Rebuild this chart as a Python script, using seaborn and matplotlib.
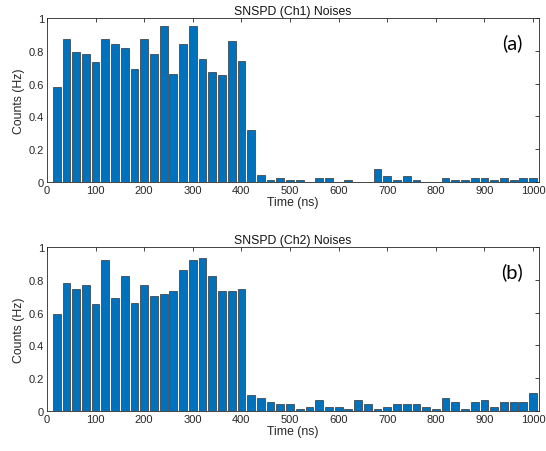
import numpy as np
import pandas as pd
import matplotlib
matplotlib.use("Agg")
import matplotlib.pyplot as plt
import seaborn as sns

# time bins (ns)
time_ns = list(range(20, 1001, 20))

# SNSPD channel 1 noise counts (Hz)
ch1_counts = [0.58, 0.87, 0.79, 0.78, 0.73, 0.87, 0.84, 0.82, 0.69, 0.87,
              0.78, 0.95, 0.66, 0.84, 0.95, 0.75, 0.67, 0.65, 0.86, 0.74,
              0.32, 0.04, 0.015, 0.025, 0.015, 0.015, 0.002, 0.025, 0.025, 0.002,
              0.015, 0.003, 0.003, 0.077, 0.037, 0.015, 0.037, 0.015, 0.003, 0.003,
              0.025, 0.015, 0.015, 0.025, 0.025, 0.015, 0.025, 0.015, 0.025, 0.025]

# SNSPD channel 2 noise counts (Hz)
ch2_counts = [0.59, 0.78, 0.74, 0.77, 0.65, 0.92, 0.69, 0.82, 0.66, 0.77,
              0.70, 0.71, 0.73, 0.86, 0.92, 0.93, 0.82, 0.73, 0.73, 0.74,
              0.098, 0.083, 0.057, 0.043, 0.043, 0.015, 0.027, 0.067, 0.027, 0.027,
              0.015, 0.067, 0.043, 0.015, 0.027, 0.043, 0.043, 0.043, 0.027, 0.015,
              0.081, 0.055, 0.015, 0.055, 0.067, 0.027, 0.055, 0.055, 0.055, 0.108]

titles = ["SNSPD (Ch1) Noises", "SNSPD (Ch2) Noises"]
panel_tags = ["(a)", "(b)"]

sns.set_style("white")
plt.rcParams['font.family'] = ['Liberation Sans', 'DejaVu Sans']

fig = plt.figure(figsize=(5.46, 4.52), dpi=100)
ax_top = fig.add_axes([0.086, 0.595, 0.901, 0.363])
ax_bot = fig.add_axes([0.086, 0.088, 0.901, 0.364])

for ax, counts, title, tag in zip([ax_top, ax_bot], [ch1_counts, ch2_counts], titles, panel_tags):
    df = pd.DataFrame({"time": time_ns, "counts": counts})
    sns.barplot(data=df, x="time", y="counts", native_scale=True, width=0.8,
                color="#0072BD", saturation=1, edgecolor="#333333", linewidth=0.5, ax=ax)
    ax.set_xlim(0, 1012)
    ax.set_ylim(0, 1)
    ax.set_xticks(np.arange(0, 1001, 100))
    ax.set_yticks(np.arange(0, 1.01, 0.2))
    ax.set_yticklabels(["0", "0.2", "0.4", "0.6", "0.8", "1"])
    ax.tick_params(direction="in", length=3, width=0.6, labelsize=8, colors="#262626",
                   top=True, right=True, pad=2)
    for sp in ax.spines.values():
        sp.set_color("#262626")
        sp.set_linewidth(0.6)
    ax.set_title(title, fontsize=8.8, pad=3, color="#111111")
    ax.set_xlabel("Time (ns)", fontsize=8.8, labelpad=1, color="#262626")
    ax.set_ylabel("Counts (Hz)", fontsize=8.8, labelpad=3, color="#262626")
    ax.text(0.945, 0.85, tag, transform=ax.transAxes, fontsize=14.5, family=['Lato', 'DejaVu Sans'],
            ha="center", va="center", color="black")

fig.savefig("out.png", dpi=100)
